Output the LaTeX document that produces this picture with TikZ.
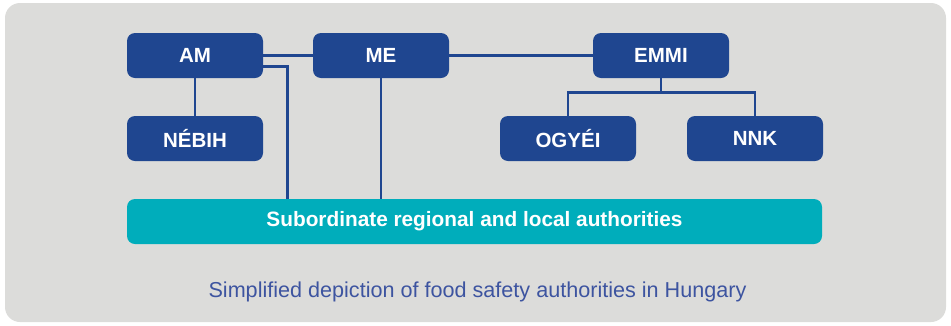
\documentclass[tikz,border=0pt]{standalone}
\usepackage{fontspec}
\setmainfont{Liberation Sans}
\definecolor{bgray}{HTML}{DCDCDA}
\definecolor{dblue}{HTML}{1F4690}
\definecolor{teal2}{HTML}{00ADBB}
\definecolor{capblue}{HTML}{3D54A0}
\begin{document}
\begin{tikzpicture}[x=1pt,y=-1pt,
  orgbox/.style={fill=dblue,rounded corners=8pt,minimum width=136pt,minimum height=45pt,
    inner sep=0pt,text=white,font=\bfseries\fontsize{20.5}{24}\selectfont},
  subbox/.style={fill=teal2,rounded corners=8pt,minimum width=695pt,minimum height=45pt,
    inner sep=0pt,text=white,font=\bfseries\fontsize{20.8}{24}\selectfont},
  link/.style={draw=dblue,line width=2.8pt}]
\useasboundingbox (0,0) rectangle (951,325);
\fill[bgray,rounded corners=15pt] (5,3) rectangle (946,322);
\node[orgbox] (AM) at (195,55.5) {AM};
\node[orgbox] (NEBIH) at (195,138.5) {NÉBIH};
\node[orgbox] (ME) at (381,55.5) {ME};
\node[orgbox] (EMMI) at (661,55.5) {EMMI};
\node[orgbox] (OGYEI) at (568,138.5) {OGYÉI};
\node[orgbox] (NNK) at (755,138.5) {NNK};
\node[subbox] (SUB) at (474.5,221.5) {Subordinate regional and local authorities};
\node[text=capblue,font=\fontsize{21.6}{25}\selectfont] (CAP) at (477.5,291.5) {Simplified depiction of food safety authorities in Hungary};
\draw[link] (AM) -- (ME);
\draw[link] (ME) -- (EMMI);
\draw[link] (AM) -- (NEBIH);
\draw[link] ([yshift=-11pt]AM.east) -| ([xshift=161pt]SUB.north west);
\draw[link] (ME.south) -- (ME.south |- SUB.north);
\draw[link] (EMMI.south) -- ++(0,14);
\draw[link] (OGYEI.north) |- ([yshift=-14pt]EMMI.south) -| (NNK.north);
\end{tikzpicture}
\end{document}
